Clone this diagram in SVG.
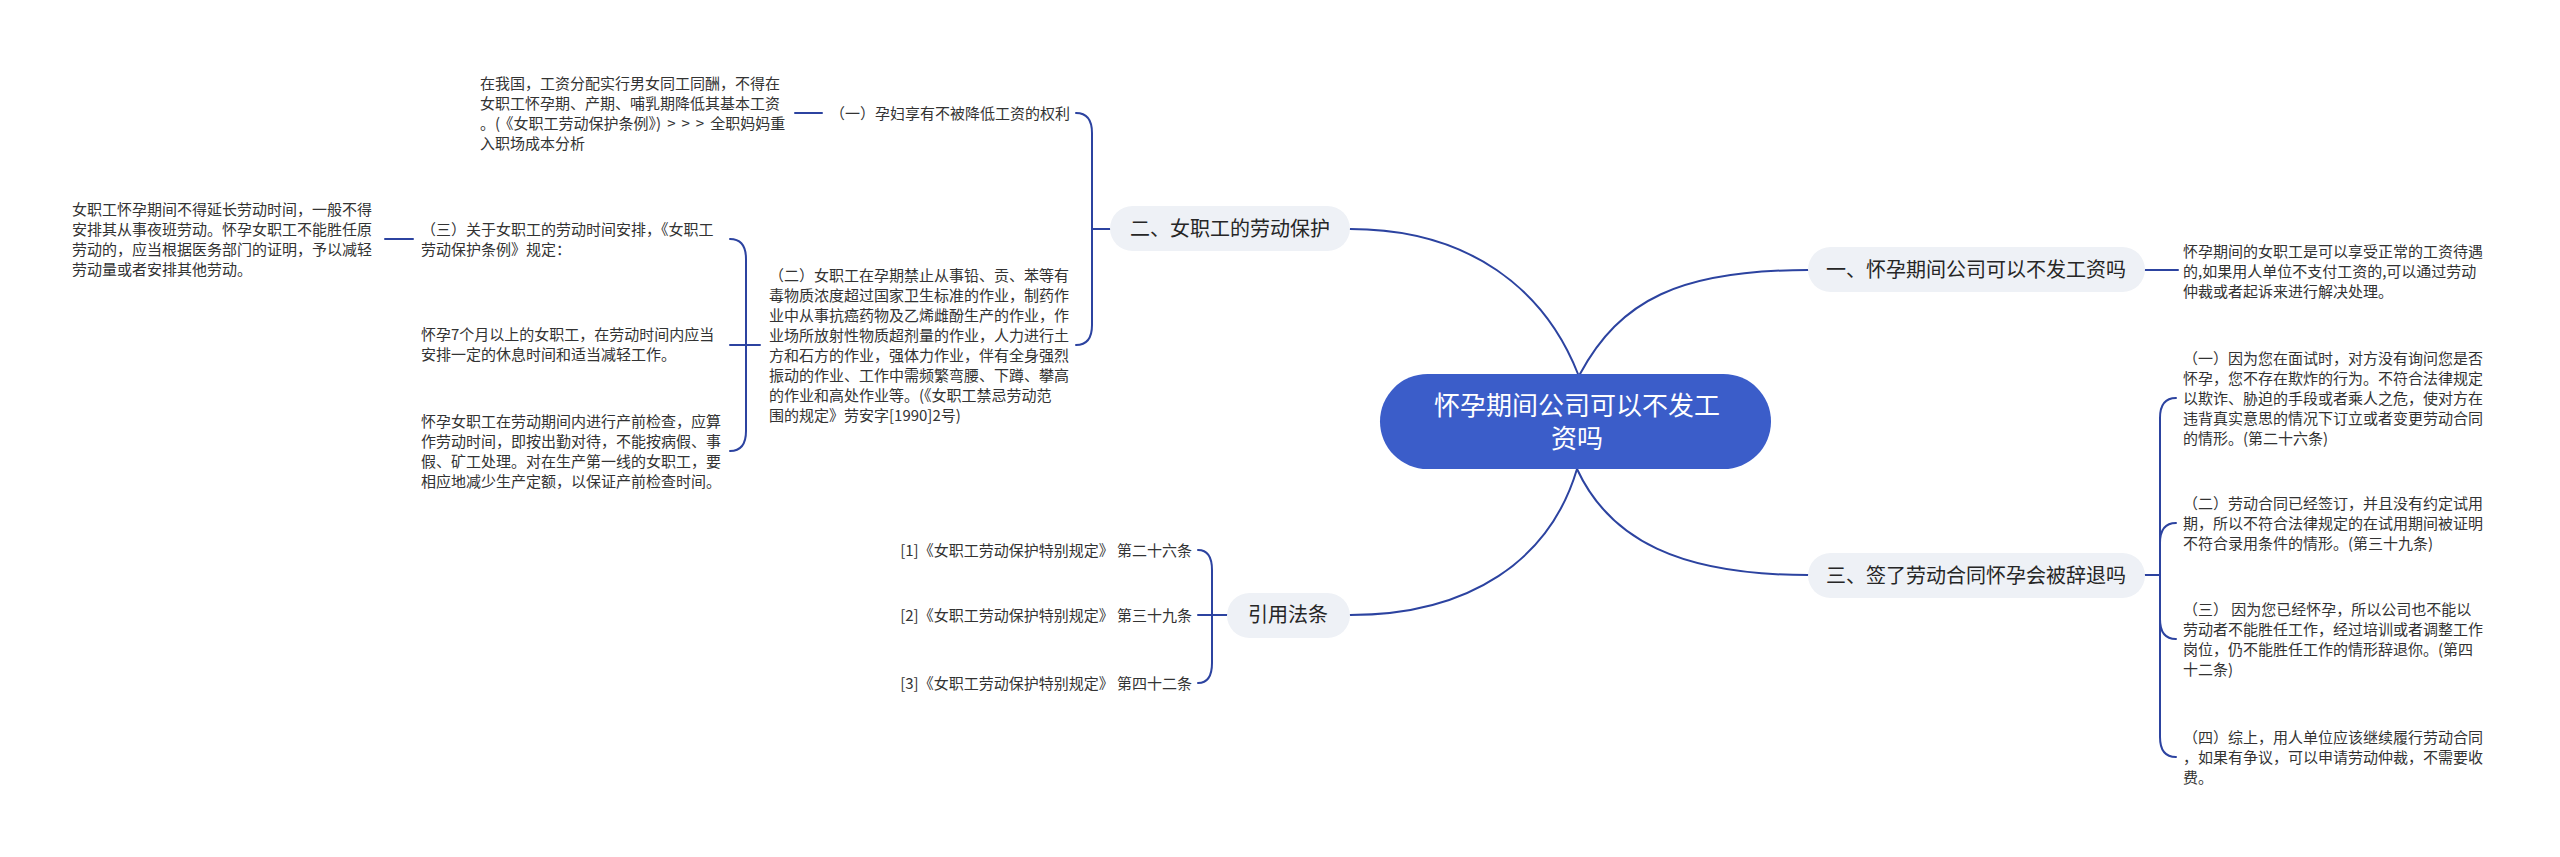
<svg xmlns="http://www.w3.org/2000/svg" width="2560" height="857" viewBox="0 0 2560 857">
<style>
.t{font-family:"Noto Sans CJK SC","Microsoft YaHei",sans-serif;font-size:15px;fill:#333}
.n{font-family:"Noto Sans CJK SC","Microsoft YaHei",sans-serif;font-size:20px;fill:#262626;text-anchor:middle}
.c{font-family:"Noto Sans CJK SC","Microsoft YaHei",sans-serif;font-size:26px;fill:#fff;text-anchor:middle}
.pill{fill:#eef1f6}
.ln{fill:none;stroke:#2c43a0;stroke-width:2;stroke-linecap:round}
.sp{letter-spacing:6px}
</style>
<rect width="2560" height="857" fill="#fff"/>
<g id="connectors">
<path class="ln" d="M1578 374 C1545 290 1470 229 1350 229"/>
<path class="ln" d="M1580 374 C1620 300 1680 270 1808 270"/>
<path class="ln" d="M1577 469 C1610 540 1680 575 1808 575"/>
<path class="ln" d="M1577 469 C1550 560 1470 615 1350 615"/>
<path class="ln" d="M2145 270 H2178"/>
<path class="ln" d="M2145 575 H2160 M2160 575 V418 Q2160 398 2176 398 M2160 575 V543 Q2160 523 2176 523 M2160 575 V619 Q2160 639 2176 639 M2160 575 V737 Q2160 757 2176 757"/>
<path class="ln" d="M1110 229 H1092 M1092 229 V133 Q1092 113 1076 113 M1092 229 V325 Q1092 345 1076 345"/>
<path class="ln" d="M822 113 H795"/>
<path class="ln" d="M760 345 H746 M746 345 V259 Q746 239 730 239 M746 345 H730 M746 345 V431 Q746 451 730 451"/>
<path class="ln" d="M413 239 H385"/>
<path class="ln" d="M1227 615 H1212 M1212 615 V570 Q1212 550 1198 550 M1212 615 H1198 M1212 615 V663 Q1212 683 1198 683"/>
</g>
<g id="center">
<rect x="1380" y="374" width="391" height="95" rx="47.5" fill="#3b5dc9"/>
<text class="c" x="1577" y="415">怀孕期间公司可以不发工</text>
<text class="c" x="1577" y="448">资吗</text>
</g>
<g id="n1">
<rect class="pill" x="1808" y="247" width="337" height="45" rx="22.5"/>
<text class="n" x="1976" y="277">一、怀孕期间公司可以不发工资吗</text>
</g>
<g id="n1c">
<text class="t" x="2183"><tspan x="2183" y="257">怀孕期间的女职工是可以享受正常的工资待遇</tspan><tspan x="2183" y="277">的,如果用人单位不支付工资的,可以通过劳动</tspan><tspan x="2183" y="297">仲裁或者起诉来进行解决处理。</tspan></text>
</g>
<g id="n3">
<rect class="pill" x="1808" y="553" width="337" height="45" rx="22.5"/>
<text class="n" x="1976" y="583">三、签了劳动合同怀孕会被辞退吗</text>
</g>
<g id="n3c1">
<text class="t"><tspan x="2183" y="364">（一）因为您在面试时，对方没有询问您是否</tspan><tspan x="2183" y="384">怀孕，您不存在欺炸的行为。不符合法律规定</tspan><tspan x="2183" y="404">以欺诈、胁迫的手段或者乘人之危，使对方在</tspan><tspan x="2183" y="424">违背真实意思的情况下订立或者变更劳动合同</tspan><tspan x="2183" y="444">的情形。(第二十六条)</tspan></text>
</g>
<g id="n3c2">
<text class="t"><tspan x="2183" y="509">（二）劳动合同已经签订，并且没有约定试用</tspan><tspan x="2183" y="529">期，所以不符合法律规定的在试用期间被证明</tspan><tspan x="2183" y="549">不符合录用条件的情形。(第三十九条)</tspan></text>
</g>
<g id="n3c3">
<text class="t"><tspan x="2183" y="615">（三） 因为您已经怀孕，所以公司也不能以</tspan><tspan x="2183" y="635">劳动者不能胜任工作，经过培训或者调整工作</tspan><tspan x="2183" y="655">岗位，仍不能胜任工作的情形辞退你。(第四</tspan><tspan x="2183" y="675">十二条)</tspan></text>
</g>
<g id="n3c4">
<text class="t"><tspan x="2183" y="743">（四）综上，用人单位应该继续履行劳动合同</tspan><tspan x="2183" y="763">，如果有争议，可以申请劳动仲裁，不需要收</tspan><tspan x="2183" y="783">费。</tspan></text>
</g>
<g id="n2">
<rect class="pill" x="1110" y="206" width="240" height="45" rx="22.5"/>
<text class="n" x="1230" y="236">二、女职工的劳动保护</text>
</g>
<g id="n2c1">
<text class="t" x="830" y="119">（一）孕妇享有不被降低工资的权利</text>
</g>
<g id="n2c1a">
<text class="t"><tspan x="480" y="89">在我国，工资分配实行男女同工同酬，不得在</tspan><tspan x="480" y="109">女职工怀孕期、产期、哺乳期降低其基本工资</tspan><tspan x="480" y="129">。<tspan class="sp">(</tspan>《女职工劳动保护条例》<tspan class="sp">)&gt;&gt;&gt;</tspan>全职妈妈重</tspan><tspan x="480" y="149">入职场成本分析</tspan></text>
</g>
<g id="n2c2">
<text class="t"><tspan x="769" y="281">（二）女职工在孕期禁止从事铅、贡、苯等有</tspan><tspan x="769" y="301">毒物质浓度超过国家卫生标准的作业，制药作</tspan><tspan x="769" y="321">业中从事抗癌药物及乙烯雌酚生产的作业，作</tspan><tspan x="769" y="341">业场所放射性物质超剂量的作业，人力进行土</tspan><tspan x="769" y="361">方和石方的作业，强体力作业，伴有全身强烈</tspan><tspan x="769" y="381">振动的作业、工作中需频繁弯腰、下蹲、攀高</tspan><tspan x="769" y="401">的作业和高处作业等。(《女职工禁忌劳动范</tspan><tspan x="769" y="421">围的规定》劳安字[1990]2号)</tspan></text>
</g>
<g id="n2c3">
<text class="t"><tspan x="421" y="235">（三）关于女职工的劳动时间安排，《女职工</tspan><tspan x="421" y="255">劳动保护条例》规定：</tspan></text>
</g>
<g id="n2c3a">
<text class="t"><tspan x="72" y="215">女职工怀孕期间不得延长劳动时间，一般不得</tspan><tspan x="72" y="235">安排其从事夜班劳动。怀孕女职工不能胜任原</tspan><tspan x="72" y="255">劳动的，应当根据医务部门的证明，予以减轻</tspan><tspan x="72" y="275">劳动量或者安排其他劳动。</tspan></text>
</g>
<g id="n2c4">
<text class="t"><tspan x="421" y="340">怀孕7个月以上的女职工，在劳动时间内应当</tspan><tspan x="421" y="360">安排一定的休息时间和适当减轻工作。</tspan></text>
</g>
<g id="n2c5">
<text class="t"><tspan x="421" y="427">怀孕女职工在劳动期间内进行产前检查，应算</tspan><tspan x="421" y="447">作劳动时间，即按出勤对待，不能按病假、事</tspan><tspan x="421" y="467">假、矿工处理。对在生产第一线的女职工，要</tspan><tspan x="421" y="487">相应地减少生产定额，以保证产前检查时间。</tspan></text>
</g>
<g id="n4">
<rect class="pill" x="1227" y="593" width="123" height="45" rx="22.5"/>
<text class="n" x="1288" y="622">引用法条</text>
</g>
<g id="n4c1"><text class="t" x="1192" y="556" text-anchor="end">[1]《女职工劳动保护特别规定》 第二十六条</text></g>
<g id="n4c2"><text class="t" x="1192" y="621" text-anchor="end">[2]《女职工劳动保护特别规定》 第三十九条</text></g>
<g id="n4c3"><text class="t" x="1192" y="689" text-anchor="end">[3]《女职工劳动保护特别规定》 第四十二条</text></g>
</svg>
